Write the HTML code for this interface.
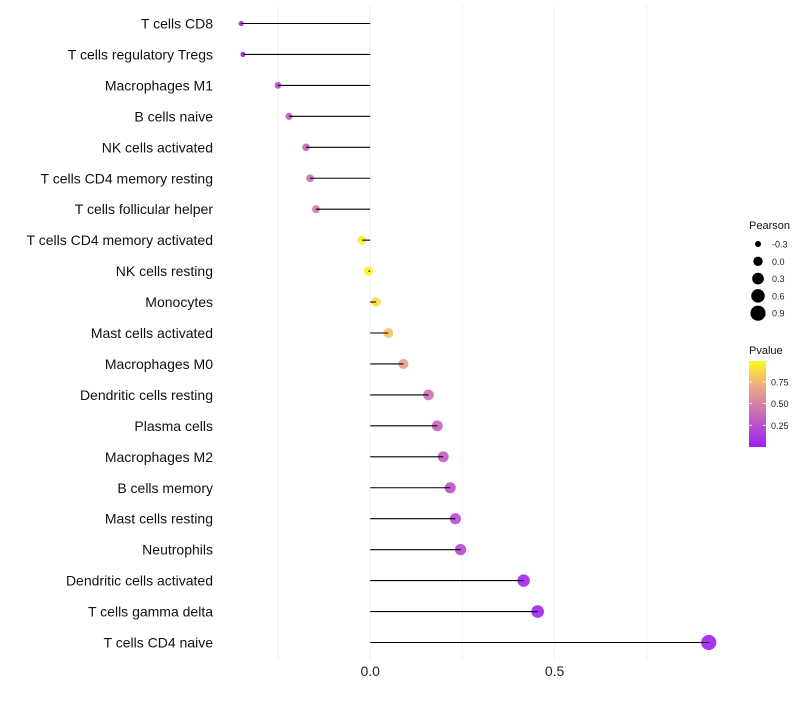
<!DOCTYPE html>
<html><head><meta charset="utf-8"><style>
body{margin:0;background:#fff;font-family:"Liberation Sans",sans-serif}
</style></head><body>
<svg id="c" width="800" height="700" xmlns="http://www.w3.org/2000/svg" font-family="Liberation Sans, sans-serif"></svg>
<script>
const categories=["T cells CD8","T cells regulatory  Tregs","Macrophages M1","B cells naive","NK cells activated","T cells CD4 memory resting","T cells follicular helper","T cells CD4 memory activated","NK cells resting","Monocytes","Mast cells activated","Macrophages M0","Dendritic cells resting","Plasma cells","Macrophages M2","B cells memory","Mast cells resting","Neutrophils","Dendritic cells activated","T cells gamma delta","T cells CD4 naive"];
const pearson=[-0.35,-0.345,-0.25,-0.22,-0.174,-0.163,-0.147,-0.022,-0.005,0.016,0.049,0.09,0.158,0.182,0.198,0.217,0.231,0.245,0.416,0.454,0.918];
const pvalue=[0.05,0.06,0.2,0.3,0.35,0.4,0.45,0.95,0.98,0.9,0.8,0.65,0.4,0.35,0.3,0.25,0.22,0.2,0.03,0.02,0.005];
const xTicks=[0,0.5];
const xTickLabels=["0.0","0.5"];
const gridVals=[-0.25,0,0.25,0.5,0.75];
const legendSizes=[-0.3,0,0.3,0.6,0.9];
const legendSizeLabels=["-0.3","0.0","0.3","0.6","0.9"];
const legendColorTicks=[0.75,0.5,0.25];
const legendColorLabels=["0.75","0.50","0.25"];

const svg=document.getElementById('c');const NS="http://www.w3.org/2000/svg";
function mk(t,a,txt){const e=document.createElementNS(NS,t);for(const k in a)e.setAttribute(k,a[k]);if(txt!=null)e.textContent=txt;svg.appendChild(e);return e;}
const x=v=>370.2+v*368.8;
const y=i=>23.5+i*30.95;
const r=v=>Math.sqrt(Math.max(3,3.6+35*(v+0.35)));
const stops=[[0,[160,32,240]],[0.5,[214,128,170]],[0.75,[240,180,120]],[1,[255,250,30]]];
function col(p){for(let i=1;i<stops.length;i++){if(p<=stops[i][0]){const a=stops[i-1],b=stops[i],t=(p-a[0])/(b[0]-a[0]);return 'rgb('+a[1].map((c,j)=>Math.round(c+(b[1][j]-c)*t)).join(',')+')';}}return 'rgb(255,250,30)';}
gridVals.forEach(v=>{const g=mk('line',{x1:x(v),x2:x(v),y1:5,y2:660,stroke:'#f0f0f0','stroke-width':1});

});
xTicks.forEach((v,i)=>{const t=mk('text',{x:x(v),y:676,'font-size':14,'text-anchor':'middle',fill:'#222'},xTickLabels[i]);

});
categories.forEach((c,i)=>{
const t=mk('text',{x:213,y:y(i)+5,'font-size':14,'text-anchor':'end',fill:'#111'},c);


const p=mk('circle',{cx:x(pearson[i]),cy:y(i),r:r(pearson[i])+0.7,fill:col(pvalue[i]),'fill-opacity':0.9});


const l=mk('line',{x1:x(0),x2:x(pearson[i]),y1:y(i),y2:y(i),stroke:'#000','stroke-width':1.1});


});
const lt=mk('text',{x:749,y:229,'font-size':11,fill:'#111'},'Pearson');


legendSizes.forEach((v,i)=>{const cy=244+i*17.3;
const c=mk('circle',{cx:758,cy:cy,r:r(v)+0.7,fill:'#000'});


const t=mk('text',{x:772,y:cy+3.5,'font-size':9,fill:'#222'},legendSizeLabels[i]);

});
const pt=mk('text',{x:749,y:354,'font-size':11,fill:'#111'},'Pvalue');


const defs=mk('defs',{});const lg=document.createElementNS(NS,'linearGradient');lg.setAttribute('id','g');lg.setAttribute('x1','0');lg.setAttribute('y1','1');lg.setAttribute('x2','0');lg.setAttribute('y2','0');defs.appendChild(lg);
stops.forEach(s=>{const st=document.createElementNS(NS,'stop');st.setAttribute('offset',s[0]);st.setAttribute('stop-color','rgb('+s[1].join(',')+')');lg.appendChild(st);});
const cb=mk('rect',{x:749,y:361,width:17,height:86,fill:'url(#g)'});


const cy=v=>447-v*86.8;
legendColorTicks.forEach((v,i)=>{
mk('line',{x1:749,x2:752,y1:cy(v),y2:cy(v),stroke:'#fff','stroke-width':0.8});
mk('line',{x1:763,x2:766,y1:cy(v),y2:cy(v),stroke:'#fff','stroke-width':0.8});
const t=mk('text',{x:771,y:cy(v)+3.5,'font-size':9,fill:'#222'},legendColorLabels[i]);

});
</script>
</body></html>
